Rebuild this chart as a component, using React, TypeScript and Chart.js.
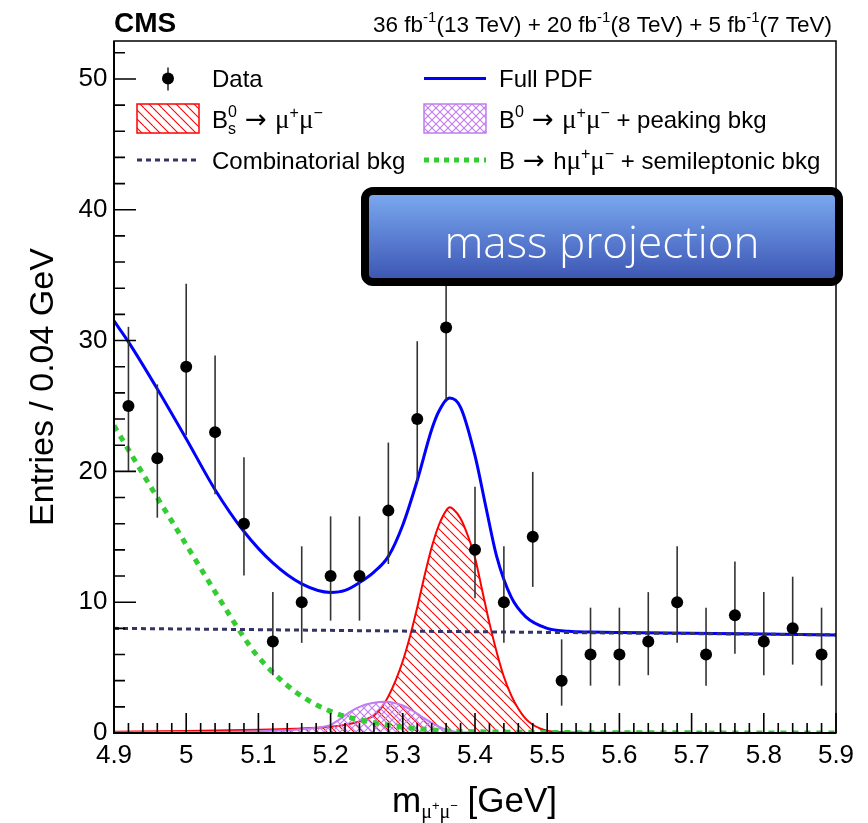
import React, { useEffect, useRef } from "react";
import { Chart, registerables } from "chart.js";

Chart.register(...registerables);

const SANS = '"Liberation Sans", Arial, Helvetica, sans-serif';
const SERIF = '"Liberation Serif", "Times New Roman", serif';
const ARROWF = '"DejaVu Sans", "Liberation Sans", sans-serif';

// ---------- data ----------
const BIN_CENTERS = [4.92, 4.96, 5.0, 5.04, 5.08, 5.12, 5.16, 5.2, 5.24, 5.28, 5.32, 5.36, 5.4, 5.44, 5.48, 5.52, 5.56, 5.6, 5.64, 5.68, 5.72, 5.76, 5.8, 5.84, 5.88];
const DATA_COUNTS = [25, 21, 28, 23, 16, 7, 10, 12, 12, 17, 24, 31, 14, 10, 15, 4, 6, 6, 7, 10, 6, 9, 7, 8, 6];
const ERR_LOW = [20.05, 16.46, 22.76, 18.25, 12.04, 4.42, 6.89, 8.59, 8.59, 12.92, 19.15, 25.48, 10.3, 6.89, 11.17, 2.09, 3.62, 3.62, 4.42, 6.89, 3.62, 6.06, 4.42, 5.23, 3.62];
const ERR_HIGH = [31.05, 26.65, 34.34, 28.85, 21.08, 10.77, 14.27, 16.56, 16.56, 22.2, 29.95, 37.62, 18.83, 14.27, 19.96, 7.16, 9.58, 9.58, 10.77, 14.27, 9.58, 13.11, 10.77, 11.95, 9.58];

const FULL_X = [4.9, 4.92, 4.96, 5.0, 5.04, 5.08, 5.12, 5.16, 5.2, 5.22, 5.24, 5.26, 5.28, 5.3, 5.32, 5.34, 5.35, 5.365, 5.38, 5.4, 5.415, 5.43, 5.45, 5.47, 5.5, 5.53, 5.56, 5.6, 5.7, 5.8, 5.9];
const FULL_Y = [31.5, 29.9, 26.3, 22.5, 18.6, 15.4, 13.0, 11.4, 10.75, 10.9, 11.5, 12.3, 13.5, 15.9, 19.3, 23.2, 24.6, 25.6, 24.9, 21.2, 17.3, 13.5, 10.4, 8.9, 8.0, 7.78, 7.72, 7.68, 7.62, 7.56, 7.5];

const COMB_X = [4.9, 5.1, 5.3, 5.5, 5.7, 5.9];
const COMB_Y = [8.0, 7.9, 7.79, 7.69, 7.6, 7.5];

const SEMI_X = [4.9, 4.95, 5.0, 5.05, 5.08, 5.1, 5.15, 5.2, 5.25, 5.3, 5.35, 5.4, 5.5, 5.7, 5.9];
const SEMI_Y = [23.5, 18.9, 14.4, 9.9, 7.3, 5.8, 3.2, 1.65, 0.9, 0.45, 0.2, 0.1, 0.04, 0.01, 0.0];

const BS_X = [4.9, 5.0, 5.1, 5.15, 5.2, 5.22, 5.24, 5.25, 5.26, 5.27, 5.28, 5.29, 5.3, 5.31, 5.32, 5.33, 5.34, 5.35, 5.36, 5.365, 5.37, 5.38, 5.39, 5.4, 5.41, 5.42, 5.43, 5.44, 5.45, 5.46, 5.47, 5.48, 5.49, 5.5, 5.52, 5.6, 5.9];
const BS_Y = [0.1, 0.15, 0.24, 0.32, 0.47, 0.62, 0.88, 1.05, 1.35, 1.9, 2.8, 4.0, 5.5, 7.4, 9.6, 12.0, 14.2, 15.9, 17.0, 17.25, 17.1, 16.4, 15.1, 13.4, 10.9, 8.4, 6.2, 4.3, 2.9, 1.85, 1.1, 0.63, 0.35, 0.18, 0.05, 0.01, 0.0];

const B0_X = [4.9, 5.0, 5.1, 5.15, 5.18, 5.2, 5.21, 5.22, 5.23, 5.24, 5.25, 5.26, 5.275, 5.29, 5.3, 5.31, 5.32, 5.33, 5.34, 5.35, 5.36, 5.37, 5.38, 5.4, 5.5, 5.9];
const B0_Y = [0.04, 0.07, 0.14, 0.25, 0.4, 0.62, 0.95, 1.35, 1.72, 2.0, 2.2, 2.32, 2.38, 2.28, 2.1, 1.82, 1.48, 1.12, 0.78, 0.48, 0.25, 0.12, 0.06, 0.02, 0.0, 0.0];

const X_TICKS = [4.9, 5.0, 5.1, 5.2, 5.3, 5.4, 5.5, 5.6, 5.7, 5.8, 5.9];
const Y_TICKS = [0, 10, 20, 30, 40, 50];
const X_MINOR_STEP = 0.02;
const Y_MINOR_STEP = 2;
const X_MIN = 4.9;
const X_MAX = 5.9;
const Y_MIN = 0;
const Y_MAX = 52.9;

const Y_TITLE = "Entries / 0.04 GeV";
const ANNOTATION = "mass projection";

// ---------- colours ----------
const C_RED = "#ff0000";
const C_VIOLET = "#c07cf0";
const C_BLUE = "#0000ff";
const C_NAVY = "#333366";
const C_GREEN = "#33cc33";

// ---------- rich text ----------
type Seg = { t: string; size: number; dy?: number; fam?: string; bold?: boolean; sub?: string; subSize?: number; subDy?: number };

const MU = (size: number): Seg => ({ t: "\u03bc", size, fam: SERIF });
const SUP = (t: string, size: number, dy: number): Seg => ({ t, size, dy });
const ARROW: Seg[] = [{ t: " ", size: 29 }, { t: "\u2192", size: 26, fam: ARROWF }, { t: " ", size: 30 }];
const MUMU: Seg[] = [MU(27), SUP("+", 16, -10), MU(27), SUP("\u2212", 16, -10)];

const HEADER_RIGHT: Seg[] = [
  { t: "36 fb", size: 22.5 }, SUP("-1", 15, -10),
  { t: "(13 TeV) + 20 fb", size: 22.5 }, SUP("-1", 15, -10),
  { t: "(8 TeV) + 5 fb", size: 22.5 }, SUP("-1", 15, -10),
  { t: "(7 TeV)", size: 22.5 },
];

const LEG_DATA: Seg[] = [{ t: "Data", size: 24 }];
const LEG_FULL: Seg[] = [{ t: "Full PDF", size: 24 }];
const LEG_BS: Seg[] = [
  { t: "B", size: 24 }, { t: "0", size: 16, dy: -11, sub: "s", subSize: 16, subDy: 6 },
  ...ARROW, ...MUMU,
];
const LEG_B0: Seg[] = [
  { t: "B", size: 24 }, SUP("0", 16, -11),
  ...ARROW, ...MUMU,
  { t: " + peaking bkg", size: 24 },
];
const LEG_COMB: Seg[] = [{ t: "Combinatorial bkg", size: 24 }];
const LEG_SEMI: Seg[] = [
  { t: "B", size: 24 }, ...ARROW, { t: "h", size: 24 }, ...MUMU,
  { t: " + semileptonic bkg", size: 24 },
];
const X_TITLE: Seg[] = [
  { t: "m", size: 35 },
  { t: "\u03bc", size: 20, fam: SERIF, dy: 5.5 }, SUP("+", 13, -2.5),
  { t: "\u03bc", size: 20, fam: SERIF, dy: 5.5 }, SUP("\u2212", 13, -2.5),
  { t: " [GeV]", size: 35 },
];

function fontOf(s: { size: number; fam?: string; bold?: boolean }) {
  return `${s.bold ? "bold " : ""}${s.size}px ${s.fam || SANS}`;
}

function segs(ctx: CanvasRenderingContext2D, list: Seg[], x: number, y: number, draw: boolean): number {
  let cx = x;
  for (const s of list) {
    ctx.font = fontOf(s);
    let w = ctx.measureText(s.t).width;
    if (draw) ctx.fillText(s.t, cx, y + (s.dy || 0));
    if (s.sub) {
      ctx.font = fontOf({ size: s.subSize || s.size, fam: s.fam });
      const w2 = ctx.measureText(s.sub).width;
      if (draw) ctx.fillText(s.sub, cx, y + (s.subDy || 0));
      w = Math.max(w, w2);
    }
    cx += w;
  }
  return cx - x;
}

function makeHatch(color: string, size: number, cross: boolean): CanvasPattern | string {
  const c = document.createElement("canvas");
  c.width = size;
  c.height = size;
  const g = c.getContext("2d");
  if (!g) return color;
  g.strokeStyle = color;
  g.lineWidth = 1.1;
  const diag = (flip: boolean) => {
    g.beginPath();
    for (const o of [-size, 0, size]) {
      if (!flip) {
        g.moveTo(o, 0);
        g.lineTo(o + size, size);
      } else {
        g.moveTo(o, size);
        g.lineTo(o + size, 0);
      }
    }
    g.stroke();
  };
  diag(false);
  if (cross) diag(true);
  return g.createPattern(c, "repeat") || color;
}

function pts(xs: number[], ys: number[]) {
  return xs.map((x, i) => ({ x, y: ys[i] }));
}

export default function App() {
  const ref = useRef<HTMLCanvasElement | null>(null);

  useEffect(() => {
    const canvas = ref.current;
    if (!canvas) return;
    const redHatch = makeHatch(C_RED, 9, false);
    const violetHatch = makeHatch(C_VIOLET, 8, true);

    const rootPlugin = {
      id: "rootStyle",
      beforeDatasetDraw(chart: any, args: any) {
        if (args.index !== 0) return;
        const ctx: CanvasRenderingContext2D = chart.ctx;
        const xs = chart.scales.x;
        const ys = chart.scales.y;
        const a = chart.chartArea;
        ctx.save();
        ctx.beginPath();
        ctx.rect(a.left, a.top, a.right - a.left, a.bottom - a.top);
        ctx.clip();
        ctx.strokeStyle = "#333";
        ctx.lineWidth = 1.6;
        BIN_CENTERS.forEach((x, i) => {
          const px = xs.getPixelForValue(x);
          ctx.beginPath();
          ctx.moveTo(px, ys.getPixelForValue(ERR_LOW[i]));
          ctx.lineTo(px, ys.getPixelForValue(ERR_HIGH[i]));
          ctx.stroke();
        });
        ctx.restore();
      },
      afterDraw(chart: any) {
        const ctx: CanvasRenderingContext2D = chart.ctx;
        const xs = chart.scales.x;
        const ys = chart.scales.y;
        const { left, right, top, bottom } = chart.chartArea;
        ctx.save();
        // frame
        ctx.strokeStyle = "#000";
        ctx.lineWidth = 1.5;
        ctx.strokeRect(left, top, right - left, bottom - top);
        ctx.lineWidth = 2;
        ctx.beginPath();
        ctx.moveTo(left, top);
        ctx.lineTo(left, bottom);
        ctx.lineTo(right, bottom);
        ctx.stroke();
        // ticks
        ctx.lineWidth = 1.6;
        ctx.beginPath();
        const nx = Math.round((X_MAX - X_MIN) / X_MINOR_STEP);
        for (let i = 0; i <= nx; i++) {
          const v = X_MIN + i * X_MINOR_STEP;
          const px = xs.getPixelForValue(v);
          const major = X_TICKS.some((t) => Math.abs(t - v) < 1e-6);
          ctx.moveTo(px, bottom);
          ctx.lineTo(px, bottom - (major ? 20 : 10));
        }
        for (let v = Y_MIN; v <= Y_MAX; v += Y_MINOR_STEP) {
          const py = ys.getPixelForValue(v);
          const major = Y_TICKS.includes(v);
          ctx.moveTo(left, py);
          ctx.lineTo(left + (major ? 22 : 11), py);
        }
        ctx.stroke();

        // header
        ctx.fillStyle = "#000";
        ctx.textBaseline = "alphabetic";
        ctx.textAlign = "left";
        ctx.font = `bold 28px ${SANS}`;
        ctx.fillText("CMS", 114, 32);
        const wr = segs(ctx, HEADER_RIGHT, 0, 0, false);
        segs(ctx, HEADER_RIGHT, 832 - wr, 32, true);

        // legend
        const col1 = 137, col2 = 424, symW = 62;
        const rows = [78.5, 119, 160];
        const base = [86.5, 127.5, 168.5];
        // Data marker
        ctx.strokeStyle = "#333";
        ctx.lineWidth = 1.6;
        ctx.beginPath();
        ctx.moveTo(col1 + symW / 2, rows[0] - 11);
        ctx.lineTo(col1 + symW / 2, rows[0] + 12);
        ctx.stroke();
        ctx.fillStyle = "#000";
        ctx.beginPath();
        ctx.arc(col1 + symW / 2, rows[0], 6, 0, Math.PI * 2);
        ctx.fill();
        // Full PDF
        ctx.strokeStyle = C_BLUE;
        ctx.lineWidth = 3;
        ctx.beginPath();
        ctx.moveTo(col2, rows[0]);
        ctx.lineTo(col2 + symW, rows[0]);
        ctx.stroke();
        // Bs box
        ctx.fillStyle = redHatch as any;
        ctx.fillRect(col1, 104, symW, 29);
        ctx.strokeStyle = C_RED;
        ctx.lineWidth = 1.5;
        ctx.strokeRect(col1, 104, symW, 29);
        // B0 box
        ctx.fillStyle = violetHatch as any;
        ctx.fillRect(col2, 104, symW, 29);
        ctx.strokeStyle = C_VIOLET;
        ctx.strokeRect(col2, 104, symW, 29);
        // comb
        ctx.strokeStyle = C_NAVY;
        ctx.lineWidth = 3;
        ctx.setLineDash([5, 4]);
        ctx.beginPath();
        ctx.moveTo(col1, rows[2]);
        ctx.lineTo(col1 + symW, rows[2]);
        ctx.stroke();
        // semi
        ctx.strokeStyle = C_GREEN;
        ctx.lineWidth = 5;
        ctx.setLineDash([5, 5]);
        ctx.beginPath();
        ctx.moveTo(col2, rows[2]);
        ctx.lineTo(col2 + symW, rows[2]);
        ctx.stroke();
        ctx.setLineDash([]);
        // legend texts
        ctx.fillStyle = "#000";
        segs(ctx, LEG_DATA, 212, base[0], true);
        segs(ctx, LEG_FULL, 499, base[0], true);
        segs(ctx, LEG_BS, 212, base[1], true);
        segs(ctx, LEG_B0, 499, base[1], true);
        segs(ctx, LEG_COMB, 212, base[2], true);
        segs(ctx, LEG_SEMI, 499, base[2], true);

        // x title
        segs(ctx, X_TITLE, 392, 812, true);
        ctx.restore();
      },
    };

    const chart = new Chart(canvas, {
      type: "line",
      data: {
        datasets: [
          {
            label: "Data",
            data: pts(BIN_CENTERS, DATA_COUNTS),
            showLine: false,
            pointRadius: 6,
            pointHoverRadius: 6,
            pointBackgroundColor: "#000",
            pointBorderWidth: 0,
            borderColor: "#000",
            backgroundColor: "#000",
          },
          {
            label: "Combinatorial bkg",
            data: pts(COMB_X, COMB_Y),
            borderColor: C_NAVY,
            borderWidth: 3,
            borderDash: [5, 4],
            pointRadius: 0,
            fill: false,
            clip: 0,
          },
          {
            label: "Full PDF",
            data: pts(FULL_X, FULL_Y),
            borderColor: C_BLUE,
            borderWidth: 3,
            pointRadius: 0,
            cubicInterpolationMode: "monotone",
            fill: false,
            clip: 0,
          },
          {
            label: "B -> h mu mu + semileptonic bkg",
            data: pts(SEMI_X, SEMI_Y),
            borderColor: C_GREEN,
            borderWidth: 5,
            borderDash: [6, 6],
            pointRadius: 0,
            cubicInterpolationMode: "monotone",
            fill: false,
            clip: 0,
          },
          {
            label: "B0 -> mu mu + peaking bkg",
            data: pts(B0_X, B0_Y),
            borderColor: C_VIOLET,
            borderWidth: 2,
            backgroundColor: violetHatch as any,
            fill: "origin",
            pointRadius: 0,
            cubicInterpolationMode: "monotone",
            clip: 0,
          },
          {
            label: "Bs -> mu mu",
            data: pts(BS_X, BS_Y),
            borderColor: C_RED,
            borderWidth: 2,
            backgroundColor: redHatch as any,
            fill: "origin",
            pointRadius: 0,
            cubicInterpolationMode: "monotone",
            clip: 0,
          },
        ],
      },
      options: {
        responsive: false,
        maintainAspectRatio: false,
        devicePixelRatio: 1,
        animation: false,
        events: [],
        layout: { padding: { left: 8, right: 32, top: 41, bottom: 0 } },
        plugins: { legend: { display: false }, tooltip: { enabled: false }, title: { display: false } },
        scales: {
          x: {
            type: "linear",
            min: X_MIN,
            max: X_MAX,
            grid: { display: false, drawTicks: false },
            border: { display: false },
            afterBuildTicks: (s: any) => {
              s.ticks = X_TICKS.map((v) => ({ value: v }));
            },
            afterFit: (s: any) => {
              s.height = 90;
            },
            ticks: {
              color: "#000",
              font: { family: SANS, size: 26 },
              padding: 7,
              maxRotation: 0,
              autoSkip: false,
              callback: (v: any) => String(v),
            },
          },
          y: {
            type: "linear",
            min: Y_MIN,
            max: Y_MAX,
            grid: { display: false, drawTicks: false },
            border: { display: false },
            afterBuildTicks: (s: any) => {
              s.ticks = Y_TICKS.map((v) => ({ value: v }));
            },
            afterFit: (s: any) => {
              s.width = 106;
            },
            ticks: {
              color: "#000",
              font: { family: SANS, size: 26 },
              padding: 6.5,
              autoSkip: false,
              callback: (v: any) => String(v),
            },
            title: {
              display: true,
              text: Y_TITLE,
              color: "#000",
              font: { family: SANS, size: 34 },
              padding: { top: 15, bottom: 0 },
            },
          },
        },
      },
      plugins: [rootPlugin],
    } as any);

    return () => chart.destroy();
  }, []);

  return (
    <div style={{ position: "absolute", left: 0, top: 0, width: 868, height: 823, background: "#fff", overflow: "hidden" }}>
      <canvas ref={ref} width={868} height={823} style={{ display: "block", width: 868, height: 823 }} />
      <div
        style={{
          position: "absolute",
          left: 361,
          top: 187,
          width: 482,
          height: 99,
          boxSizing: "border-box",
          border: "8px solid #000",
          borderRadius: 12,
          background: "linear-gradient(180deg, #7aa8ee 0%, #5b7fd2 50%, #3e58b4 100%)",
          display: "flex",
          alignItems: "center",
          justifyContent: "center",
          paddingTop: 8,
          color: "#fff",
          fontFamily: '"Open Sans", sans-serif',
          fontWeight: 300,
          fontSize: 44,
          lineHeight: 1,
          whiteSpace: "nowrap",
        }}
      >
        {ANNOTATION}
      </div>
    </div>
  );
}
